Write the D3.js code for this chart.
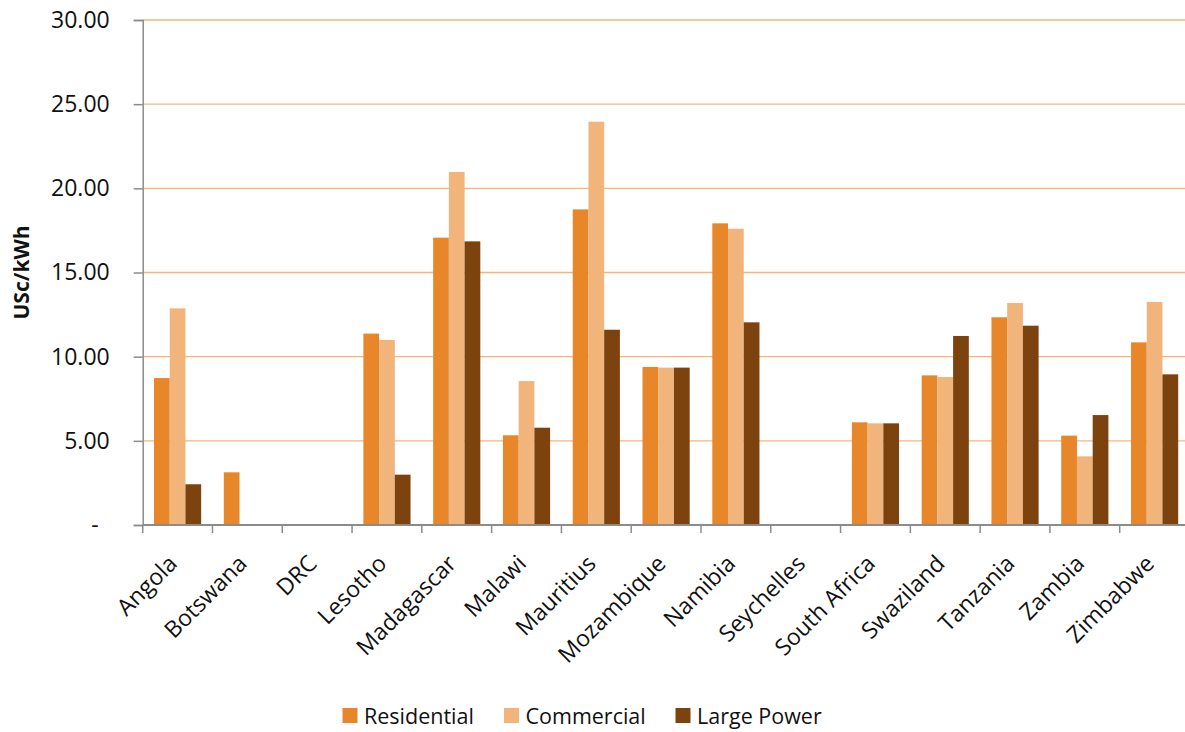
<!DOCTYPE html>
<html>
<head>
<meta charset="utf-8">
<script src="https://cdn.jsdelivr.net/npm/d3@7"></script>
<style>
  html, body { margin: 0; padding: 0; background: #fff; }
  svg { display: block; font-family: "Open Sans", "DejaVu Sans", sans-serif; }
</style>
</head>
<body>
<svg id="chart" width="1185" height="732"></svg>
<script>
// Electricity tariffs by country and customer class (US cents per kWh)
const countries = ["Angola", "Botswana", "DRC", "Lesotho", "Madagascar", "Malawi", "Mauritius",
  "Mozambique", "Namibia", "Seychelles", "South Africa", "Swaziland", "Tanzania", "Zambia", "Zimbabwe"];
const seriesNames = ["Residential", "Commercial", "Large Power"];
const residential = [8.73, 3.13, null, 11.37, 17.07, 5.33, 18.75, 9.39, 17.92, null, 6.10, 8.89, 12.34, 5.31, 10.85];
const commercial  = [12.87, null, null, 10.99, 20.97, 8.55, 23.96, 9.35, 17.60, null, 6.04, 8.79, 13.19, 4.08, 13.25];
const largePower  = [2.42, null, null, 2.99, 16.85, 5.78, 11.60, 9.35, 12.04, null, 6.04, 11.23, 11.84, 6.53, 8.95];
const yTicks = [0, 5, 10, 15, 20, 25, 30];
const colors = ["#E8872A", "#F1B57C", "#7D430E"];

const seriesValues = [residential, commercial, largePower];

const svg = d3.select("#chart");
const plot = { left: 142.7, right: 1189.5, top: 20, bottom: 525 };

const x = d3.scaleBand().domain(countries).range([plot.left, plot.right]).padding(0);
const xs = d3.scaleBand().domain(seriesNames).range([0, x.bandwidth()])
  .paddingInner(0).paddingOuter(0.72);
const y = d3.scaleLinear().domain([0, 30]).range([plot.bottom, plot.top]);

// horizontal gridlines
svg.append("g").selectAll("line").data(yTicks.filter(d => d > 0)).join("line")
  .attr("x1", plot.left).attr("x2", plot.right)
  .attr("y1", d => y(d)).attr("y2", d => y(d))
  .attr("stroke", "#F6B47B").attr("stroke-width", 1.4);

// bars
const rows = [];
countries.forEach((c, i) => {
  seriesNames.forEach((s, j) => {
    const v = seriesValues[j][i];
    if (v != null) rows.push({ c, s, v, j });
  });
});
svg.append("g").selectAll("rect").data(rows).join("rect")
  .attr("x", d => x(d.c) + xs(d.s))
  .attr("y", d => y(d.v))
  .attr("width", xs.bandwidth())
  .attr("height", d => y(0) - y(d.v))
  .attr("fill", d => colors[d.j]);

// y axis
const yAxis = d3.axisLeft(y).tickValues(yTicks).tickSize(9).tickPadding(24)
  .tickFormat(d => d === 0 ? "-" : d3.format(".2f")(d));
const gy = svg.append("g").attr("transform", `translate(${plot.left},0)`).call(yAxis);
gy.select(".domain").attr("stroke", "#8C8C8C").attr("stroke-width", 1.5);
gy.selectAll(".tick line").attr("stroke", "#8C8C8C").attr("stroke-width", 1.5);
gy.selectAll(".tick text").attr("font-size", 23).attr("fill", "#111")
  .attr("font-family", "'Open Sans', sans-serif")
  .attr("dx", d => d === 0 ? -11 : 0);

// x axis: baseline and boundary ticks between categories
const gx = svg.append("g");
gx.append("line").attr("x1", plot.left).attr("x2", plot.right)
  .attr("y1", y(0)).attr("y2", y(0))
  .attr("stroke", "#8C8C8C").attr("stroke-width", 1.8);
gx.selectAll("line.bound").data(countries).join("line").attr("class", "bound")
  .attr("x1", d => x(d)).attr("x2", d => x(d))
  .attr("y1", y(0)).attr("y2", y(0) + 8)
  .attr("stroke", "#8C8C8C").attr("stroke-width", 1.5);
gx.selectAll("text").data(countries).join("text")
  .attr("transform", d => `translate(${x(d) + x.bandwidth() / 2 + 1},${y(0) + 40}) rotate(-45)`)
  .attr("text-anchor", "end")
  .attr("font-size", 23).attr("fill", "#111")
  .text(d => d);

// y axis title
svg.append("text")
  .attr("transform", `translate(29,${(plot.top + plot.bottom) / 2}) rotate(-90)`)
  .attr("text-anchor", "middle")
  .attr("font-size", 21).attr("font-weight", "bold").attr("fill", "#111")
  .text("USc/kWh");

// legend
const legendX = [342.5, 504, 675.5];
const lg = svg.append("g").selectAll("g").data(seriesNames).join("g")
  .attr("transform", (d, i) => `translate(${legendX[i]},708)`);
lg.append("rect").attr("width", 15).attr("height", 15).attr("fill", (d, i) => colors[i]);
lg.append("text").attr("x", 21.5).attr("y", 15.5)
  .attr("font-size", 21.5).attr("fill", "#111").text(d => d);
</script>
</body>
</html>
